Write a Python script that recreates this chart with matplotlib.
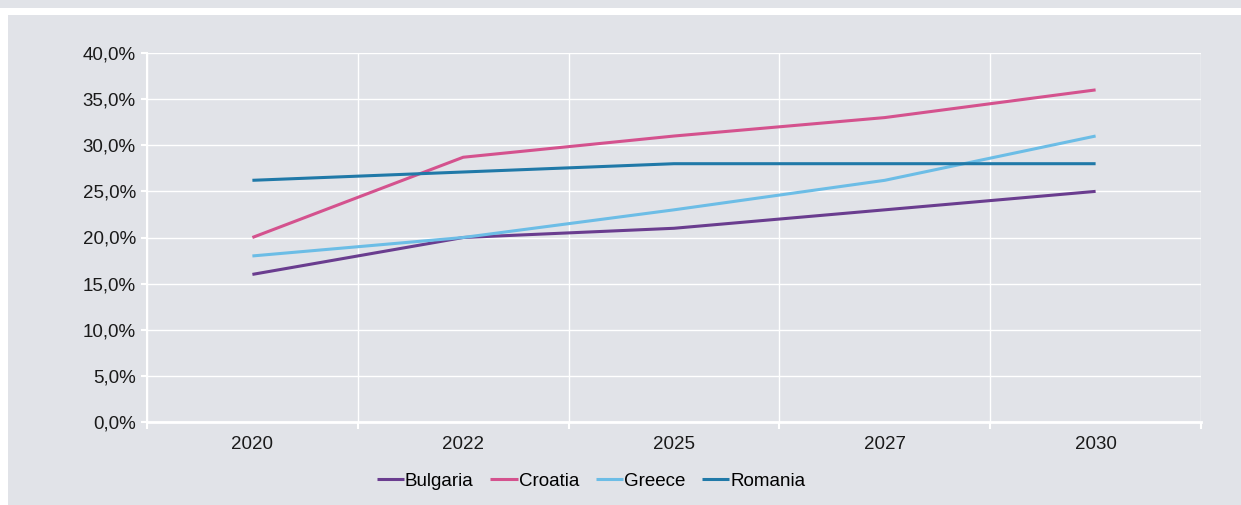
import numpy as np
import matplotlib
matplotlib.use("Agg")
import matplotlib.pyplot as plt
from matplotlib.ticker import FuncFormatter, FixedLocator

years = ["2020", "2022", "2025", "2027", "2030"]
bulgaria = [16.0, 20.0, 21.0, 23.0, 25.0]
croatia = [20.0, 28.7, 31.0, 33.0, 36.0]
greece = [18.0, 20.0, 23.0, 26.2, 31.0]
romania = [26.2, 27.1, 28.0, 28.0, 28.0]

series = [
    ("Bulgaria", bulgaria, "#6a3d8f"),
    ("Croatia", croatia, "#d4528e"),
    ("Greece", greece, "#6cbde6"),
    ("Romania", romania, "#2079a8"),
]

BG = "#e1e3e8"
FS = 13.5

plt.rcParams["font.family"] = ["Liberation Sans", "DejaVu Sans"]

fig = plt.figure(figsize=(12.41, 5.05), dpi=100)
fig.patch.set_facecolor("white")

# outer panel bands
fig.add_artist(plt.Rectangle((0, 1 - 8 / 505), 1, 8 / 505, transform=fig.transFigure,
                             facecolor=BG, edgecolor="none", zorder=0))
fig.add_artist(plt.Rectangle((8 / 1241, 0), 1, 1 - 15 / 505, transform=fig.transFigure,
                             facecolor=BG, edgecolor="none", zorder=0))

left, right = 147 / 1241, 1201 / 1241
bottom, top = 1 - 422 / 505, 1 - 53 / 505
ax = fig.add_axes([left, bottom, right - left, top - bottom])
ax.set_facecolor(BG)

x = np.arange(len(years))
for name, vals, color in series:
    ax.plot(x, vals, color=color, lw=2.2, label=name, solid_capstyle="butt", zorder=3)

ax.set_xlim(-0.5, len(years) - 0.5)
ax.set_ylim(0, 40)
ax.yaxis.set_major_locator(FixedLocator(np.arange(0, 41, 5)))
ax.yaxis.set_major_formatter(FuncFormatter(lambda v, p: f"{v:.1f}%".replace(".", ",")))
ax.set_xticks(x)
ax.set_xticklabels(years)
ax.set_xticks(np.arange(-0.5, len(years)), minor=True)

ax.grid(axis="y", which="major", color="white", lw=1.0, zorder=1)
ax.grid(axis="x", which="minor", color="white", lw=1.0, zorder=1)
ax.tick_params(axis="x", which="major", length=0, labelsize=FS, pad=10, colors="#1a1a1a")
ax.tick_params(axis="x", which="minor", length=5, color="white", width=1.5)
ax.tick_params(axis="y", length=4, color="white", width=1.5, labelsize=FS, colors="#1a1a1a", pad=4)

for side in ["top", "right"]:
    ax.spines[side].set_visible(False)
ax.spines["left"].set_color("white")
ax.spines["bottom"].set_color("white")
ax.spines["left"].set_linewidth(1.5)
ax.spines["bottom"].set_linewidth(2)

leg = fig.legend(loc="center", bbox_to_anchor=(591 / 1241, 1 - 481 / 505), ncol=4,
                 frameon=False, fontsize=FS, handlelength=1.45, handletextpad=0.05,
                 columnspacing=0.9)

fig.savefig("out.png", dpi=100, facecolor=fig.get_facecolor())
